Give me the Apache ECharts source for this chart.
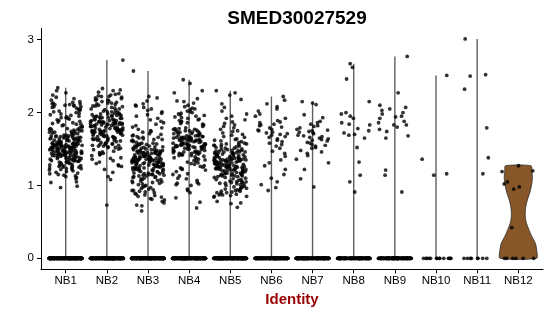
<!DOCTYPE html>
<html>
<head>
<meta charset="utf-8">
<script src="https://cdn.jsdelivr.net/npm/echarts@6/dist/echarts.min.js"></script>
<style>
html,body{margin:0;padding:0;background:#fff;}
#chart{width:550px;height:316px;}
</style>
</head>
<body>
<div id="chart"></div>
<script>
const categories = ['NB1','NB2','NB3','NB4','NB5','NB6','NB7','NB8','NB9','NB10','NB11','NB12'];
const yTicks = [0, 1, 2, 3];
// number of cells with zero expression in each identity
const zeroCounts = [250, 250, 250, 250, 250, 200, 200, 150, 150, 14, 8, 6];

const nb1 = [2.34,2.30,2.27,2.24,2.21,
2.19,2.17,2.15,2.14,2.13,2.12,2.12,2.11,2.10,2.10,2.09,2.08,2.08,2.07,2.05,2.04,2.03,2.02,2.01,2.00,2.06,2.11,
1.99,1.97,1.96,1.95,1.93,1.93,1.92,1.90,1.89,1.88,1.87,1.86,1.85,1.84,1.83,1.82,1.81,1.80,1.98,1.94,1.91,1.84,
1.79,1.78,1.77,1.76,1.76,1.75,1.74,1.73,1.72,1.72,1.71,1.70,1.78,1.75,1.73,1.71,1.77,1.74,
1.69,1.69,1.68,1.68,1.67,1.67,1.66,1.66,1.65,1.65,1.64,1.64,1.63,1.63,1.62,1.62,1.61,1.61,1.60,1.60,1.68,1.66,1.64,1.62,1.67,1.63,1.65,1.61,1.69,1.66,
1.59,1.59,1.58,1.58,1.58,1.57,1.57,1.57,1.56,1.56,1.56,1.55,1.55,1.55,1.54,1.54,1.54,1.53,1.53,1.53,1.52,1.52,1.52,1.51,1.51,1.51,1.50,1.50,1.50,1.59,1.57,1.55,1.53,1.51,1.58,1.56,1.54,1.52,1.56,1.53,
1.49,1.49,1.48,1.48,1.48,1.47,1.47,1.47,1.46,1.46,1.46,1.45,1.45,1.45,1.44,1.44,1.44,1.43,1.43,1.43,1.42,1.42,1.42,1.41,1.41,1.41,1.40,1.40,1.40,1.49,1.47,1.45,1.43,1.41,1.48,1.46,1.44,1.42,1.46,1.44,
1.39,1.39,1.38,1.38,1.37,1.37,1.36,1.36,1.35,1.35,1.34,1.34,1.33,1.33,1.32,1.32,1.31,1.31,1.30,1.30,1.38,1.36,1.34,1.32,1.37,1.35,1.33,
1.29,1.28,1.27,1.26,1.25,1.24,1.23,1.22,1.21,1.20,1.28,1.26,1.24,1.22,1.27,1.23,1.25,
1.19,1.17,1.16,1.14,1.13,1.12,1.18,1.15,1.11,
1.09,1.05,1.04,0.99,0.97];

const nb2 = [2.72,
2.33,2.31,2.30,2.28,2.26,2.25,2.24,2.23,2.22,2.21,2.22,2.20,
2.19,2.18,2.17,2.16,2.15,2.14,2.13,2.12,2.11,2.10,2.09,2.08,2.07,2.06,2.05,2.04,2.03,2.02,2.01,2.00,2.17,2.13,2.09,2.05,2.01,
1.99,1.98,1.98,1.97,1.96,1.96,1.95,1.94,1.94,1.93,1.92,1.92,1.91,1.90,1.90,1.99,1.97,1.95,1.93,1.91,1.96,1.94,1.92,
1.89,1.89,1.88,1.88,1.87,1.87,1.86,1.86,1.85,1.85,1.84,1.84,1.83,1.83,1.82,1.82,1.81,1.81,1.80,1.80,1.89,1.87,1.85,1.83,1.81,1.88,1.86,1.84,1.82,1.86,1.84,1.85,
1.79,1.79,1.78,1.78,1.77,1.77,1.76,1.76,1.75,1.75,1.74,1.74,1.73,1.73,1.72,1.72,1.71,1.71,1.70,1.70,1.79,1.77,1.75,1.73,1.71,1.78,1.76,1.74,1.72,1.76,1.74,1.75,
1.69,1.68,1.67,1.66,1.65,1.64,1.63,1.62,1.61,1.60,1.69,1.67,1.65,1.63,1.61,1.68,1.66,1.64,1.62,1.65,1.63,1.67,
1.59,1.58,1.57,1.56,1.55,1.54,1.53,1.52,1.51,1.50,1.58,1.56,1.54,1.52,1.57,1.55,
1.49,1.47,1.45,1.43,1.42,1.41,1.46,1.44,
1.38,1.36,1.34,1.32,1.30,1.37,
1.28,1.27,1.26,1.22,1.18,1.12,1.08,
0.73];

const nb3 = [2.57,
2.22,2.20,2.16,2.12,2.10,
2.09,2.07,2.05,2.03,2.01,1.99,1.97,1.95,1.92,1.90,
1.88,1.86,1.84,1.82,1.80,1.79,1.77,1.75,1.74,1.73,1.71,1.70,
1.69,1.68,1.67,1.66,1.65,1.64,1.63,1.62,1.61,1.60,1.66,1.63,
1.59,1.58,1.57,1.56,1.55,1.54,1.53,1.52,1.51,1.50,1.58,1.56,1.54,1.52,1.57,1.55,1.53,1.51,
1.49,1.49,1.48,1.48,1.47,1.47,1.46,1.46,1.45,1.45,1.44,1.44,1.43,1.43,1.42,1.42,1.41,1.41,1.40,1.40,1.49,1.47,1.45,1.43,1.41,1.48,1.46,1.44,1.42,1.46,1.44,
1.39,1.39,1.38,1.38,1.38,1.37,1.37,1.37,1.36,1.36,1.36,1.35,1.35,1.35,1.34,1.34,1.34,1.33,1.33,1.33,1.32,1.32,1.32,1.31,1.31,1.31,1.30,1.30,1.30,1.39,1.37,1.35,1.33,1.31,1.38,1.36,1.34,1.32,1.35,
1.29,1.29,1.28,1.28,1.27,1.27,1.26,1.26,1.25,1.25,1.24,1.24,1.23,1.23,1.22,1.22,1.21,1.21,1.20,1.20,1.29,1.27,1.25,1.23,1.21,1.28,1.26,1.24,1.22,1.26,
1.19,1.18,1.17,1.16,1.15,1.14,1.13,1.12,1.11,1.10,1.19,1.17,1.15,1.13,1.11,1.18,1.16,1.14,1.12,1.15,
1.09,1.08,1.07,1.06,1.05,1.04,1.03,1.02,1.01,1.00,1.08,1.06,1.04,
0.99,0.98,0.97,0.95,0.94,0.93,0.92,0.91,0.90,0.96,0.93,
0.89,0.88,0.86,0.85,0.84,0.82,0.81,0.80,0.87,
0.78,0.76,0.73,0.72,0.65];

const nb4 = [2.45,2.40,2.30,2.27,
2.19,2.16,2.13,2.10,2.08,2.06,2.04,2.02,2.01,2.00,2.15,2.05,
1.99,1.98,1.97,1.96,1.95,1.94,1.93,1.92,1.91,1.90,1.89,1.88,1.87,1.86,1.85,1.84,1.83,1.81,
1.79,1.78,1.77,1.76,1.75,1.74,1.73,1.72,1.71,1.70,1.78,1.76,1.74,1.72,1.75,1.73,1.71,1.77,
1.69,1.69,1.68,1.68,1.67,1.67,1.66,1.66,1.65,1.65,1.64,1.64,1.63,1.63,1.62,1.62,1.61,1.61,1.60,1.60,1.68,1.66,1.64,1.62,1.67,1.65,1.63,1.61,1.66,1.64,
1.59,1.59,1.58,1.58,1.57,1.57,1.56,1.56,1.55,1.55,1.54,1.54,1.53,1.53,1.52,1.52,1.51,1.51,1.50,1.50,1.58,1.56,1.54,1.52,1.57,1.55,1.53,1.51,1.56,1.54,1.55,1.53,
1.49,1.48,1.47,1.46,1.45,1.44,1.43,1.42,1.41,1.40,1.48,1.46,1.44,1.42,1.47,1.45,1.43,1.41,1.46,1.44,
1.39,1.37,1.35,1.33,1.31,1.38,1.36,1.34,1.32,1.30,
1.29,1.27,1.25,1.23,1.21,1.26,1.24,1.22,
1.19,1.16,1.13,1.10,1.07,1.04,1.02,1.01,1.00,1.15,1.09,1.03,
0.95,0.93,0.90,0.83,0.77,0.69];

const nb5 = [2.30,2.27,2.24,
2.18,2.12,2.07,2.02,
1.98,1.95,1.92,1.90,1.87,1.85,1.83,1.81,
1.79,1.77,1.75,1.74,1.72,1.70,1.69,1.67,1.66,1.64,1.63,1.62,1.61,1.60,
1.59,1.58,1.57,1.56,1.55,1.54,1.53,1.52,1.51,1.50,1.57,1.55,1.53,1.51,1.56,
1.49,1.48,1.48,1.47,1.46,1.46,1.45,1.44,1.44,1.43,1.42,1.42,1.41,1.40,1.40,1.49,1.47,1.45,1.43,1.41,1.48,1.46,1.44,1.42,1.45,
1.39,1.39,1.38,1.38,1.37,1.37,1.36,1.36,1.35,1.35,1.34,1.34,1.33,1.33,1.32,1.32,1.31,1.31,1.30,1.30,1.39,1.37,1.35,1.33,1.31,1.38,1.36,1.34,1.32,1.36,1.34,1.35,1.33,1.37,1.31,
1.29,1.29,1.28,1.28,1.27,1.27,1.26,1.26,1.25,1.25,1.24,1.24,1.23,1.23,1.22,1.22,1.21,1.21,1.20,1.20,1.29,1.27,1.25,1.23,1.21,1.28,1.26,1.24,1.22,1.26,1.24,1.25,1.23,1.27,1.21,
1.19,1.18,1.17,1.16,1.15,1.14,1.13,1.12,1.11,1.10,1.19,1.17,1.15,1.13,1.11,1.18,1.16,1.14,1.12,1.15,1.13,1.17,
1.09,1.08,1.07,1.06,1.05,1.04,1.03,1.02,1.01,1.00,1.08,1.06,1.04,1.02,1.05,1.03,
0.99,0.98,0.97,0.96,0.95,0.94,0.93,0.92,0.91,0.90,0.98,0.96,0.94,0.92,0.90,
0.89,0.88,0.87,0.86,0.85,0.84,0.87,0.85,
0.78,0.76,0.75,0.70];

const nb6 = [2.22,2.17,2.12,
2.08,2.05,2.02,1.98,1.95,1.92,
1.89,1.87,1.86,1.84,1.83,1.82,1.80,
1.79,1.77,1.76,1.75,1.73,1.72,1.71,1.70,
1.69,1.67,1.66,1.64,1.62,1.60,
1.58,1.56,1.54,1.51,
1.47,1.44,1.40,1.35,1.31,
1.27,1.22,1.15,1.10,
1.05,1.01,0.97,0.93];

const nb7 = [2.15,2.13,2.11,
1.97,1.93,
1.88,1.86,1.84,1.82,1.81,
1.79,1.77,1.76,1.75,1.74,1.73,1.72,1.71,
1.69,1.68,1.67,1.66,1.65,1.64,1.63,1.62,1.61,
1.59,1.58,1.56,1.55,1.54,1.52,1.51,
1.48,1.46,1.44,1.41,
1.36,1.31,
1.22,1.09,
0.98];

const nb8 = [2.67,2.62,2.46,2.15,2.00,1.98,1.95,1.92,1.86,1.84,1.83,1.78,1.75,1.72,1.70,1.69,1.65,1.52,1.32,1.14,1.05,0.91];
const nb9 = [2.77,2.27,2.10,2.07,2.05,2.03,2.00,1.98,1.95,1.94,1.92,1.88,1.86,1.83,1.83,1.80,1.77,1.74,1.68,1.65,1.21,1.14,0.91];
const nb10 = [2.51,1.36,1.16,1.14];
const nb11 = [3.01,2.52,2.50,2.32,1.79,1.38,1.16];
const nb12 = [1.27,1.20,1.19,1.05,1.02,0.98,0.95,0.42];

// NB12 violin outline: relative half-width (1 = full) at each expression level
const nb12ProfileY = [0, 0.1, 0.2, 0.3, 0.4, 0.5, 0.6, 0.7, 0.8, 0.9, 1.0, 1.1, 1.2, 1.27];
const nb12ProfileW = [0.99, 1.0, 0.93, 0.73, 0.56, 0.42, 0.37, 0.40, 0.49, 0.62, 0.71, 0.76, 0.73, 0.69];

const groupValues = [nb1, nb2, nb3, nb4, nb5, nb6, nb7, nb8, nb9, nb10, nb11, nb12];

// deterministic jitter (like geom_jitter, but reproducible)
function mulberry32(a) {
  return function () {
    a |= 0; a = a + 0x6D2B79F5 | 0;
    let t = Math.imul(a ^ a >>> 15, 1 | a);
    t = t + Math.imul(t ^ t >>> 7, 61 | t) ^ t;
    return ((t ^ t >>> 14) >>> 0) / 4294967296;
  };
}
const rnd = mulberry32(12345);
const JIT = 0.4;

const pointData = [];
groupValues.forEach((vals, g) => {
  for (let k = 0; k < zeroCounts[g]; k++) pointData.push([g + 1 + (rnd() * 2 - 1) * JIT, 0]);
  vals.forEach(v => pointData.push([g + 1 + (rnd() * 2 - 1) * JIT, v]));
});

const thinViolins = [];
groupValues.forEach((vals, g) => {
  if (g < 11) thinViolins.push([g + 1, Math.max.apply(null, vals)]);
});

const chart = echarts.init(document.getElementById('chart'), null, { renderer: 'canvas' });
const FONT = '"Liberation Sans", Arial, Helvetica, sans-serif';
const idx = categories.map((c, i) => i + 1);

chart.setOption({
  animation: false,
  backgroundColor: '#ffffff',
  title: {
    text: 'SMED30027529',
    left: 292, textAlign: 'center',
    top: 4,
    textStyle: { fontFamily: FONT, fontWeight: 'bold', fontSize: 19, color: '#000' }
  },
  grid: { left: 41, right: 7, top: 28.3, bottom: 46.7, containLabel: false },
  xAxis: {
    type: 'value', min: 0.4, max: 12.6,
    name: 'Identity', nameLocation: 'middle', nameGap: 22,
    nameTextStyle: { fontFamily: FONT, fontWeight: 'bold', fontSize: 15, color: '#990000' },
    axisLine: { show: true, onZero: false, lineStyle: { color: '#000', width: 1 } },
    axisTick: { show: true, length: 4, customValues: idx, lineStyle: { color: '#000' } },
    axisLabel: { customValues: idx, formatter: v => categories[Math.round(v) - 1] || '',
      fontFamily: FONT, fontSize: 11.5, color: '#000', margin: 6 },
    splitLine: { show: false }
  },
  yAxis: {
    type: 'value', min: -0.151, max: 3.156,
    axisLine: { show: true, onZero: false, lineStyle: { color: '#000', width: 1 } },
    axisTick: { show: true, length: 4, customValues: yTicks, lineStyle: { color: '#000' } },
    axisLabel: { customValues: yTicks, formatter: v => String(v),
      fontFamily: FONT, fontSize: 11.5, color: '#000', margin: 7 },
    splitLine: { show: false }
  },
  series: [
    {
      type: 'custom', z: 1, silent: true,
      data: thinViolins,
      renderItem: function (params, api) {
        const x = api.value(0), top = api.value(1);
        const p0 = api.coord([x, 0]), p1 = api.coord([x, top]);
        return { type: 'line', shape: { x1: p0[0], y1: p0[1], x2: p1[0], y2: p1[1] },
          style: { stroke: '#5f5f5f', lineWidth: 1.4 } };
      }
    },
    {
      type: 'custom', z: 1, silent: true,
      data: [[12]],
      renderItem: function (params, api) {
        const cx = api.value(0);
        const pts = [];
        for (let i = 0; i < nb12ProfileY.length; i++) pts.push(api.coord([cx - 0.45 * nb12ProfileW[i], nb12ProfileY[i]]));
        for (let i = nb12ProfileY.length - 1; i >= 0; i--) pts.push(api.coord([cx + 0.45 * nb12ProfileW[i], nb12ProfileY[i]]));
        return { type: 'polygon', shape: { points: pts, smooth: 0.25 },
          style: { fill: '#87572A', stroke: '#2b2b2b', lineWidth: 0.8 } };
      }
    },
    {
      type: 'scatter', z: 3, silent: true,
      symbol: 'circle', symbolSize: 3.8,
      itemStyle: { color: '#000' },
      data: pointData
    }
  ]
});
</script>
</body>
</html>
